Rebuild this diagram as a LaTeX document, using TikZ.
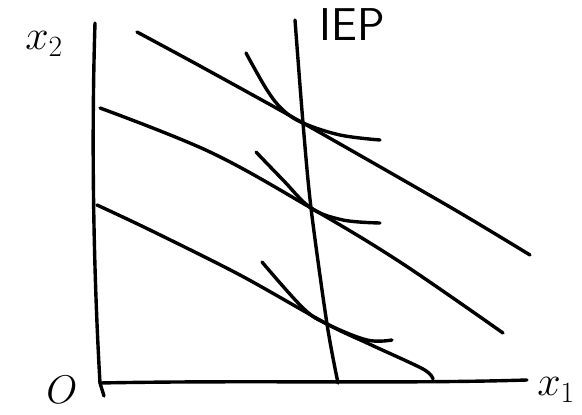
\documentclass[tikz,border=0pt]{standalone}
\usepackage{fix-cm}
\usepackage{amssymb}
\usepackage{mathtools}
\usetikzlibrary{arrows}

\begin{document}
\begin{tikzpicture}[x=1pt,y=-1pt,
		trait/.style={line width=3.4pt,line cap=round,line join=round},
		lbl/.style={inner sep=0pt,font=\fontsize{42}{46}\selectfont}]
		\useasboundingbox (0,0) rectangle (582,415);
		%Axes
		\coordinate (O) at (100,383);
		\coordinate (Y) at (95,23);
		\coordinate (X) at (527,380);
		\draw[trait] (Y) .. controls (91,150) and (94,280) .. (O);
		\draw[trait] (O) -- (104,396);
		\draw[trait] (O) .. controls (250,380) and (400,384) .. (X);
		%Etiquettes
		\node[lbl] (x2) at (44,44) {$x_2$};
		\node[lbl] (x1) at (556,390) {$x_1$};
		\node[lbl,font=\fontsize{40}{44}\selectfont] (o) at (62,390) {$O$};
		\node[lbl,font=\fontsize{46}{50}\selectfont\sffamily] (iep) at (352,25) {IEP};
		%Points de tangence
		\coordinate (T1) at (303,123);
		\coordinate (T2) at (311,208);
		\coordinate (T3) at (327,324);
		%Droites de budget
		\draw[trait] plot[smooth,tension=0.5] coordinates {(137,32) (200,66) (T1) (450,207) (530,255)};
		\draw[trait] plot[smooth,tension=0.6] coordinates {(100,108) (210,152) (T2) (400,262) (503,333)};
		\draw[trait] plot[smooth,tension=0.5] coordinates {(97,205) (150,230) (240,275) (T3) (367,343) (423,369) (433,379)};
		%Courbes d'indifference
		\draw[trait] plot[smooth,tension=0.6] coordinates {(246,53) (267,90) (283,110) (T1) (340,135) (380,140)};
		\draw[trait] plot[smooth,tension=0.6] coordinates {(256,152) (283,180) (T2) (343,220) (380,223)};
		\draw[trait] plot[smooth,tension=0.6] coordinates {(262,262) (303,308) (T3) (367,340) (392,340)};
		%Sentier d'expansion
		\draw[trait] plot[smooth,tension=0.5] coordinates {(295,20) (T1) (T2) (T3) (338,383)};
\end{tikzpicture}
\end{document}
